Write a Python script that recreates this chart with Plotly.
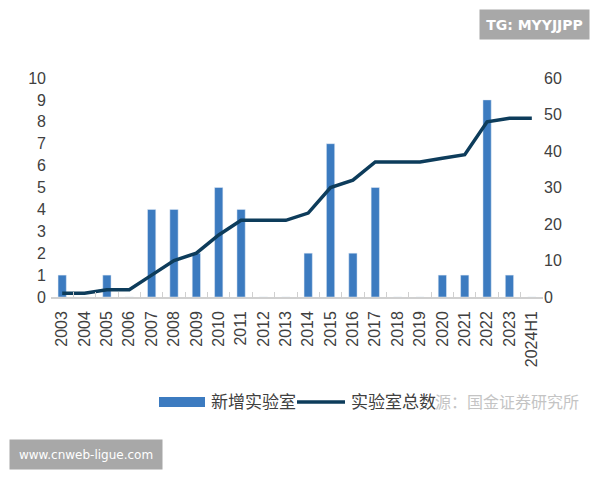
import plotly.graph_objects as go

years = ["2003", "2004", "2005", "2006", "2007", "2008", "2009", "2010", "2011",
         "2012", "2013", "2014", "2015", "2016", "2017", "2018", "2019", "2020",
         "2021", "2022", "2023", "2024H1"]
new_labs = [1, 0, 1, 0, 4, 4, 2, 5, 4, 0, 0, 2, 7, 2, 5, 0, 0, 1, 1, 9, 1, 0]
total_labs = [1, 1, 2, 2, 6, 10, 12, 17, 21, 21, 21, 23, 30, 32, 37, 37, 37, 38, 39, 48, 49, 49]
left_ticks = list(range(0, 11))
right_ticks = list(range(0, 61, 10))

bar_color = "#3c7bc0"
line_color = "#0d3c5b"
txt = "#404040"
font_family = "Liberation Sans, Arial, Noto Sans CJK SC, sans-serif"

# plot area in screen pixels (page has 8px body margin)
PX0, PX1, PY0, PY1 = 51, 543, 78, 297
PW, PH = PX1 - PX0, PY1 - PY0


def px(x):
    return (x - PX0) / PW


def py(y):
    return (PY1 - y) / PH


fig = go.Figure()
fig.add_trace(go.Bar(x=years, y=new_labs, name="新增实验室", marker_color=bar_color,
                     width=0.37, yaxis="y", showlegend=False))
fig.add_trace(go.Scatter(x=years, y=total_labs, name="实验室总数", mode="lines",
                         line=dict(color=line_color, width=3.5), yaxis="y2", showlegend=False))

fig.update_layout(
    width=592, height=472,
    margin=dict(l=PX0 - 8, r=592 - (PX0 - 8) - PW, t=PY0 - 8, b=472 - (PY0 - 8) - PH),
    paper_bgcolor="white", plot_bgcolor="white",
    font=dict(family=font_family, color=txt, size=16),
    xaxis=dict(type="category", tickangle=-90, tickfont=dict(size=16),
               showline=True, linecolor="#d0d0d0", linewidth=1.5,
               ticks="inside", tickson="boundaries", ticklen=5, tickcolor="#d0d0d0",
               showgrid=False, ticklabelstandoff=6),
    yaxis=dict(range=[0, 10], tickvals=left_ticks, showgrid=False, zeroline=False,
               showline=False, ticks="", tickfont=dict(size=16), ticklabelstandoff=4),
    yaxis2=dict(range=[0, 60], tickvals=right_ticks, overlaying="y", side="right",
                showgrid=False, zeroline=False, showline=False, ticks="",
                tickfont=dict(size=16)),
    bargap=0.6,
)

# Manual legend
shapes = [
    dict(type="rect", xref="paper", yref="paper", x0=px(159), x1=px(205),
         y0=py(407), y1=py(397), fillcolor=bar_color, line=dict(width=0)),
    dict(type="line", xref="paper", yref="paper", x0=px(297), x1=px(345),
         y0=py(402), y1=py(402), line=dict(color=line_color, width=3.5)),
]
annotations = [
    dict(text="新增实验室", xref="paper", yref="paper", x=px(209), y=py(402),
         xanchor="left", yanchor="middle", showarrow=False, font=dict(size=17, color=txt)),
    dict(text="实验室总数", xref="paper", yref="paper", x=px(349), y=py(402),
         xanchor="left", yanchor="middle", showarrow=False, font=dict(size=17, color=txt)),
    dict(text="源：国金证券研究所", xref="paper", yref="paper", x=px(433), y=py(402),
         xanchor="left", yanchor="middle", showarrow=False, font=dict(size=16, color="#c4c4c4")),
    dict(text="TG: MYYJJPP", xref="paper", yref="paper", x=px(534.5), y=py(24.5),
         xanchor="center", yanchor="middle", showarrow=False,
         font=dict(size=14, color="white", family="DejaVu Sans", weight="bold"),
         bgcolor="#a8a8a8", width=103, height=23, borderpad=3),
    dict(text="www.cnweb-ligue.com", xref="paper", yref="paper", x=px(86), y=py(454.5),
         xanchor="center", yanchor="middle", showarrow=False,
         font=dict(size=12, color="white", family="DejaVu Sans"),
         bgcolor="#a8a8a8", width=146, height=23, borderpad=3),
]
fig.update_layout(shapes=shapes, annotations=annotations)

fig.write_html("out.html")
